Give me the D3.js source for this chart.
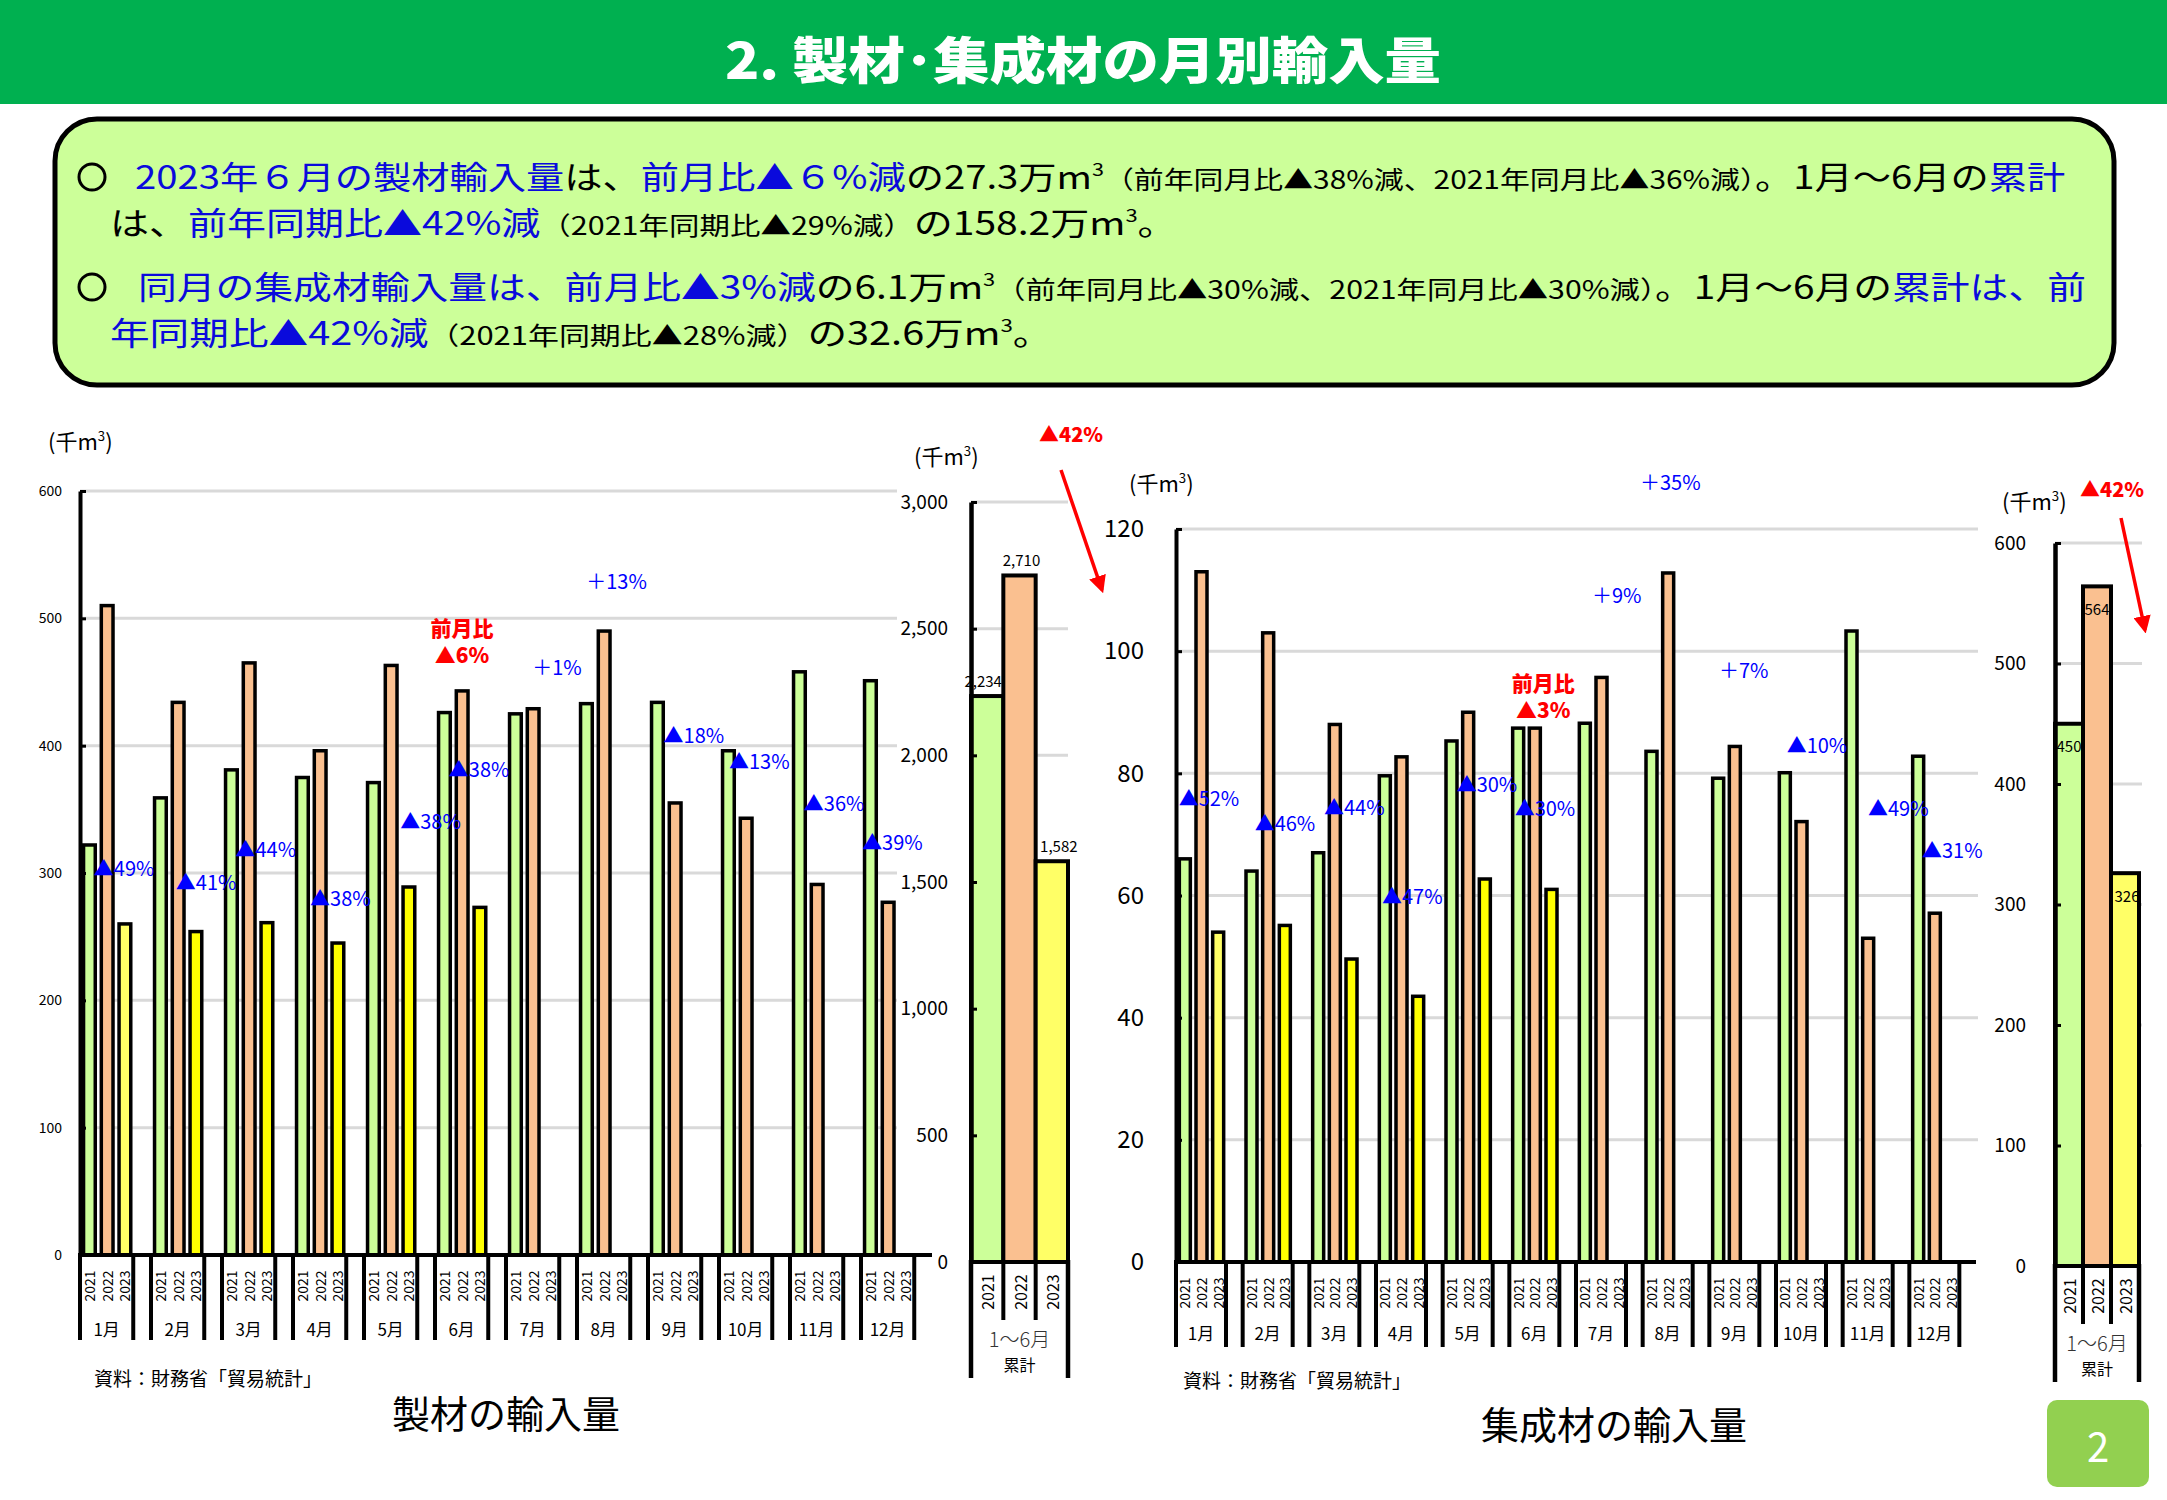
<!DOCTYPE html>
<html><head><meta charset="utf-8">
<script src="https://cdn.jsdelivr.net/npm/d3@7"></script>
<style>
body{margin:0;background:#fff}
svg{display:block}
text{font-family:"Noto Sans CJK JP","Noto Sans",sans-serif}
</style>
</head><body>
<svg id="c" width="2167" height="1500"></svg>
<script>
// ---------------- data ----------------
const months = ["1月","2月","3月","4月","5月","6月","7月","8月","9月","10月","11月","12月"];
const years = ["2021","2022","2023"];

const sawn2021 = [322,359,381,375,371,426,425,433,434,396,458,451];
const sawn2022 = [510,434,465,396,463,443,429,490,355,343,291,277];
const sawn2023 = [260,254,261,245,289,273];
const sawnTotal = [2234,2710,1582];
const sawnTicks = [0,100,200,300,400,500,600];
const sawnTotalTicks = [0,500,1000,1500,2000,2500,3000];
const sawnNotes = ["▲49%","▲41%","▲44%","▲38%","▲38%","▲38%","＋1%","＋13%","▲18%","▲13%","▲36%","▲39%"];
const sawnNoteLevels = [304,293,319,281,341,382,462,530,409,388,355,325];
const sawnNoteShift = [0.195,0.35,0.19,0.24,0.51,0.195,0.37,0.13,0.22,0.14,0.195,0.016];

const glulam2021 = [66,64,67,79.6,85.3,87.4,88.2,83.6,79.2,80.1,103.3,82.8];
const glulam2022 = [113,103,88,82.7,90,87.4,95.7,112.8,84.4,72.1,53,57.1];
const glulam2023 = [54,55.1,49.6,43.5,62.7,61.0];
const glulamTotal = [450,564,326];
const glulamTicks = [0,20,40,60,80,100,120];
const glulamTotalTicks = [0,100,200,300,400,500,600];
const glulamNotes = ["▲52%","▲46%","▲44%","▲47%","▲30%","▲30%","＋9%","＋35%","＋7%","▲10%","▲49%","▲31%"];
const glulamNoteLevels = [76,72,74.6,60,78.3,74.4,109.3,127.8,97,84.8,74.4,67.6];
const glulamNoteShift = [0.04,0.18,0.22,0.09,0.21,0.08,0.24,-0.04,0.145,0.16,0.38,0.19];

const totalLabel = "累計";
const periodLabel = "1～6月";

// ---------------- styles ----------------
const barColors = ["#CCFF99","#FAC090","#FFFF00"];
const totalColors = ["#CCFF99","#FAC090","#FFFF66"];
const BLUE = "#0000FF", RED = "#FF0000";
const FONT = '"Noto Sans CJK JP","Noto Sans",sans-serif';

const svg = d3.select("#c");
const defs = svg.append("defs");
defs.append("marker").attr("id","arr").attr("viewBox","0 0 10 10").attr("refX",8).attr("refY",5)
  .attr("markerWidth",5).attr("markerHeight",5).attr("orient","auto")
  .append("path").attr("d","M0,0 L10,5 L0,10 z").attr("fill",RED);

// ---------------- header ----------------
svg.append("rect").attr("x",0).attr("y",0).attr("width",2167).attr("height",104).attr("fill","#00B050");
svg.append("text").attr("x",1083).attr("y",57).attr("text-anchor","middle").attr("dominant-baseline","central")
  .attr("fill","#fff").attr("font-size",50).attr("font-weight",900)
  .attr("textLength",716).attr("lengthAdjust","spacingAndGlyphs")
  .text("2. 製材･集成材の月別輸入量");

// ---------------- text box ----------------
svg.append("rect").attr("x",55).attr("y",119).attr("width",2059).attr("height",266).attr("rx",42)
  .attr("fill","#CCFF99").attr("stroke","#000").attr("stroke-width",5);
[177,287].forEach(cy=>svg.append("circle").attr("cx",92).attr("cy",cy).attr("r",13)
  .attr("fill","none").attr("stroke","#000").attr("stroke-width",3));

const boxLines = [
 {y:189, x:135, w:1931, parts:[["b","2023年６月の製材輸入量"],["k","は、"],["b","前月比▲６%減"],["k","の27.3万m"],["sup","3"],["s","（前年同月比▲38%減、2021年同月比▲36%減）"],["k","。1月～6月の"],["b","累計"]]},
 {y:235, x:110, w:1067, parts:[["k","は、"],["b","前年同期比▲42%減"],["s","（2021年同期比▲29%減）"],["k","の158.2万m"],["sup","3"],["k","。"]]},
 {y:299, x:138, w:1949, parts:[["b","同月の集成材輸入量は、前月比▲3%減"],["k","の6.1万m"],["sup","3"],["s","（前年同月比▲30%減、2021年同月比▲30%減）"],["k","。1月～6月の"],["b","累計は、前"]]},
 {y:345, x:110, w:943, parts:[["b","年同期比▲42%減"],["s","（2021年同期比▲28%減）"],["k","の32.6万m"],["sup","3"],["k","。"]]}
];
boxLines.forEach(L=>{
  const t = svg.append("text").attr("x",L.x).attr("y",L.y);
  let prevSup=false;
  L.parts.forEach(([k,s])=>{
    const ts = t.append("tspan").text(s);
    if(k==="sup"){ ts.attr("font-size",18).attr("dy",-13).attr("fill","#000"); prevSup=true; return; }
    if(prevSup){ ts.attr("dy",13); prevSup=false; }
    ts.attr("font-size", k==="s"?25:32).attr("fill", k==="b"?"#0A0ADC":"#000");
  });
  const w = t.node().getComputedTextLength();
  const s = L.w / w;
  t.attr("transform",`translate(${L.x},0) scale(${s},1) translate(${-L.x},0)`);
});

// ---------------- helpers ----------------
function unitLabel(x,y,size){
  const t = svg.append("text").attr("x",x).attr("y",y).attr("font-size",size).attr("fill","#000");
  t.append("tspan").text("(千m");
  t.append("tspan").text("3").attr("font-size",size*0.6).attr("dy",-size*0.4);
  t.append("tspan").text(")").attr("dy",size*0.4);
}

function drawMonthly(o){
  const g = svg.append("g");
  const xm = d3.scaleBand().domain(months).range([o.x0,o.x1]);
  const xs = d3.scaleBand().domain([...years,"gap"]).range([0,xm.bandwidth()]);
  const y = d3.scaleLinear().domain([0,o.max]).range([o.yBase,o.yTop]);
  g.selectAll(".grid").data(o.ticks.filter(t=>t>0)).join("line")
    .attr("x1",o.x0).attr("x2",o.gridEnd).attr("y1",d=>y(d)).attr("y2",d=>y(d))
    .attr("stroke","#D9D9D9").attr("stroke-width",3);
  const rows=[];
  o.series.forEach((arr,i)=>arr.forEach((v,j)=>rows.push({m:months[j],yr:years[i],v,i})));
  g.selectAll(".bar").data(rows).join("rect")
    .attr("x",d=>xm(d.m)+xs(d.yr)+xs.bandwidth()*0.2)
    .attr("width",xs.bandwidth()*0.66)
    .attr("y",d=>y(d.v)).attr("height",d=>y(0)-y(d.v))
    .attr("fill",d=>(d.i===2&&d.m==="1月")?"#FFFF66":barColors[d.i])
    .attr("stroke","#000").attr("stroke-width",3.5);
  const ax = g.append("g").attr("transform",`translate(${o.x0},0)`)
    .call(d3.axisLeft(y).tickValues(o.ticks).tickSize(-6).tickSizeOuter(0).tickPadding(o.tickPad).tickFormat(d3.format(",")));
  ax.select(".domain").attr("stroke-width",4);
  ax.selectAll(".tick line").attr("stroke-width",3);
  ax.selectAll(".tick text").attr("font-size",o.tickFont).attr("font-family",FONT).attr("fill","#000");
  g.append("line").attr("x1",o.x0-2).attr("x2",o.x1).attr("y1",y(0)).attr("y2",y(0)).attr("stroke","#000").attr("stroke-width",4);
  months.forEach(m=>{
    [xm(m), xm(m)+3*xs.bandwidth()].forEach(x=>g.append("line").attr("x1",x).attr("x2",x)
      .attr("y1",y(0)).attr("y2",y(0)+85).attr("stroke","#000").attr("stroke-width",4));
    years.forEach(yr=>{
      const cx = xm(m)+xs(yr)+xs.bandwidth()/2, cy = y(0)+31;
      g.append("text").attr("transform",`translate(${cx},${cy}) rotate(-90)`)
        .attr("text-anchor","middle").attr("dominant-baseline","central")
        .attr("font-size",o.yearFont).attr("fill","#000").text(yr);
    });
    g.append("text").attr("x",xm(m)+1.5*xs.bandwidth()).attr("y",y(0)+o.monthDy)
      .attr("text-anchor","middle").attr("dominant-baseline","central")
      .attr("font-size",o.monthFont).attr("fill","#000").text(m);
  });
  o.notes.forEach((s,j)=>{
    g.append("text").attr("x",xm(months[j])+o.noteShift[j]*xm.bandwidth()).attr("y",y(o.noteLevels[j]))
      .attr("dominant-baseline","central").attr("font-size",20).attr("fill",BLUE).text(s);
  });
  const rx = xm("6月")+o.redShift*xm.bandwidth();
  g.append("text").attr("x",rx).attr("y",y(o.redLevels[0])).attr("text-anchor","middle").attr("dominant-baseline","central")
    .attr("font-size",21).attr("font-weight",900).attr("fill",RED).text("前月比");
  g.append("text").attr("x",rx).attr("y",y(o.redLevels[1])).attr("text-anchor","middle").attr("dominant-baseline","central")
    .attr("font-size",21).attr("font-weight",900).attr("fill",RED).text(o.redText);
}

function drawTotal(o){
  const g = svg.append("g");
  const xb = d3.scaleBand().domain(years).range([o.x0,o.x1]);
  const y = d3.scaleLinear().domain([0,o.max]).range([o.yBase,o.yTop]);
  g.selectAll(".grid").data(o.ticks.filter(t=>t>0)).join("line")
    .attr("x1",o.x0).attr("x2",o.gridEnd).attr("y1",d=>y(d)).attr("y2",d=>y(d))
    .attr("stroke","#D9D9D9").attr("stroke-width",3);
  g.selectAll(".bar").data(o.values).join("rect")
    .attr("x",(d,i)=>xb(years[i])).attr("width",xb.bandwidth())
    .attr("y",d=>y(d)).attr("height",d=>y(0)-y(d))
    .attr("fill",(d,i)=>totalColors[i]).attr("stroke","#000").attr("stroke-width",4);
  const ax = g.append("g").attr("transform",`translate(${o.x0},0)`)
    .call(d3.axisLeft(y).tickValues(o.ticks).tickSize(-6).tickSizeOuter(0).tickPadding(o.tickPad).tickFormat(d3.format(",")));
  ax.select(".domain").attr("stroke-width",4.5);
  ax.selectAll(".tick line").attr("stroke-width",3);
  ax.selectAll(".tick text").attr("font-size",o.tickFont).attr("font-family",FONT).attr("fill","#000");
  g.append("line").attr("x1",o.x0).attr("x2",o.x1).attr("y1",y(0)).attr("y2",y(0)).attr("stroke","#000").attr("stroke-width",4);
  [o.x0,o.x1].forEach(x=>g.append("line").attr("x1",x).attr("x2",x).attr("y1",y(0)-2).attr("y2",o.frameBottom)
     .attr("stroke","#000").attr("stroke-width",4.5));
  years.slice(1).forEach(yr=>g.append("line").attr("x1",xb(yr)).attr("x2",xb(yr)).attr("y1",y(0)).attr("y2",y(0)+58)
     .attr("stroke","#000").attr("stroke-width",4));
  years.forEach(yr=>g.append("text").attr("transform",`translate(${xb(yr)+xb.bandwidth()/2},${y(0)+30}) rotate(-90)`)
     .attr("text-anchor","middle").attr("dominant-baseline","central").attr("font-size",16).attr("fill","#000").text(yr));
  const cx=(o.x0+o.x1)/2;
  g.append("text").attr("x",cx).attr("y",y(0)+76).attr("text-anchor","middle").attr("dominant-baseline","central")
    .attr("font-size",20).attr("font-weight",300).attr("fill","#333").text(periodLabel);
  g.append("text").attr("x",cx).attr("y",y(0)+102).attr("text-anchor","middle").attr("dominant-baseline","central")
    .attr("font-size",16).attr("fill","#000").text(totalLabel);
  g.selectAll(".vl").data(o.values).join("text")
    .attr("x",(d,i)=>xb(years[i])+xb.bandwidth()/2+o.labelDx[i])
    .attr("y",d=>y(d)+o.labelDy)
    .attr("text-anchor","middle").attr("dominant-baseline","central").attr("font-size",15).attr("fill","#000")
    .text(d=>d3.format(",")(d));
}

// ---------------- left: sawn wood ----------------
unitLabel(48,450,22);
drawMonthly({x0:80,x1:932,yTop:491,yBase:1255,max:600,ticks:sawnTicks,gridEnd:897,
  series:[sawn2021,sawn2022,sawn2023],tickFont:14,tickPad:18,yearFont:14,monthFont:17,monthDy:73,
  notes:sawnNotes,noteLevels:sawnNoteLevels,noteShift:sawnNoteShift,redShift:0.38,redLevels:[493,472],redText:"▲6%"});
unitLabel(914,465,22);
drawTotal({x0:971,x1:1068,yTop:502,yBase:1262,max:3000,ticks:sawnTotalTicks,gridEnd:1068,
  values:sawnTotal,tickFont:19,tickPad:23,frameBottom:1378,labelDx:[-4,2,7],labelDy:-16});
svg.append("text").attr("x",1039).attr("y",433).attr("dominant-baseline","central").attr("font-size",20)
  .attr("font-weight",900).attr("fill",RED).text("▲42%");
svg.append("line").attr("x1",1061).attr("y1",470).attr("x2",1102).attr("y2",590)
  .attr("stroke",RED).attr("stroke-width",3.5).attr("marker-end","url(#arr)");
svg.append("text").attr("x",94).attr("y",1377).attr("dominant-baseline","central").attr("font-size",19).attr("fill","#000")
  .text("資料：財務省「貿易統計」");
svg.append("text").attr("x",506).attr("y",1411).attr("text-anchor","middle").attr("dominant-baseline","central")
  .attr("font-size",38).attr("fill","#000").text("製材の輸入量");

// ---------------- right: glulam ----------------
unitLabel(1129,492,22);
drawMonthly({x0:1176,x1:1976,yTop:529,yBase:1262,max:120,ticks:glulamTicks,gridEnd:1978,
  series:[glulam2021,glulam2022,glulam2023],tickFont:24,tickPad:32,yearFont:14,monthFont:17,monthDy:70,
  notes:glulamNotes,noteLevels:glulamNoteLevels,noteShift:glulamNoteShift,redShift:0.51,redLevels:[95,90.6],redText:"▲3%"});
unitLabel(2002,510,22);
drawTotal({x0:2055,x1:2139,yTop:543,yBase:1266,max:600,ticks:glulamTotalTicks,gridEnd:2142,
  values:glulamTotal,tickFont:19,tickPad:29,frameBottom:1382,labelDx:[0,0,2],labelDy:22});
svg.append("text").attr("x",2080).attr("y",488).attr("dominant-baseline","central").attr("font-size",20)
  .attr("font-weight",900).attr("fill",RED).text("▲42%");
svg.append("line").attr("x1",2121).attr("y1",518).attr("x2",2145).attr("y2",630)
  .attr("stroke",RED).attr("stroke-width",3.5).attr("marker-end","url(#arr)");
svg.append("text").attr("x",1183).attr("y",1379).attr("dominant-baseline","central").attr("font-size",19).attr("fill","#000")
  .text("資料：財務省「貿易統計」");
svg.append("text").attr("x",1614).attr("y",1422).attr("text-anchor","middle").attr("dominant-baseline","central")
  .attr("font-size",38).attr("fill","#000").text("集成材の輸入量");

// ---------------- page number ----------------
svg.append("rect").attr("x",2047).attr("y",1400).attr("width",102).attr("height",87).attr("rx",10).attr("fill","#92D050");
svg.append("text").attr("x",2098).attr("y",1445).attr("text-anchor","middle").attr("dominant-baseline","central")
  .attr("font-size",40).attr("fill","#fff").text("2");
</script>
</body></html>
